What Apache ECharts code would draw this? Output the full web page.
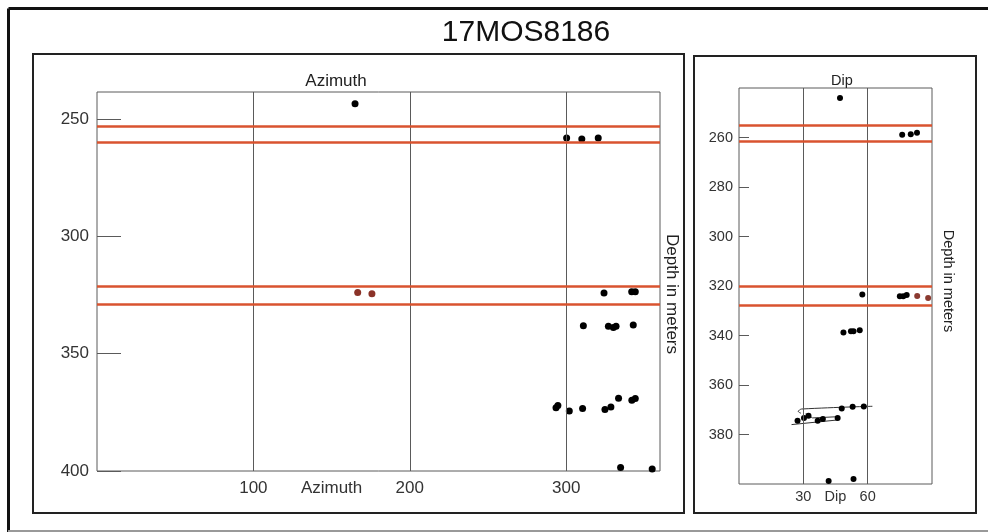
<!DOCTYPE html>
<html>
<head>
<meta charset="utf-8">
<script src="https://cdn.jsdelivr.net/npm/echarts@6/dist/echarts.min.js"></script>
<style>
  html, body { margin: 0; padding: 0; background: #fff; }
  #chart { width: 988px; height: 532px; }
</style>
</head>
<body>
<div id="chart"></div>
<script>
// azimuth panel (left)
const azBlackX = [165, 300.3, 310, 320.5, 324.2, 341.9, 344.2, 311, 327, 330.2, 331.9, 342.9, 293.5, 294.7, 302, 310.5, 324.8, 328.6, 333.5, 342, 344.2, 334.8, 355]
const azBlackDepth = [243.5, 258.1, 258.5, 258.1, 324.1, 323.6, 323.6, 338.1, 338.3, 338.8, 338.3, 337.8, 373, 372.1, 374.4, 373.4, 373.8, 372.7, 369, 369.8, 369.1, 398.5, 399.2]
const azBrownX = [166.7, 175.8]
const azBrownDepth = [323.9, 324.5]
const azRedDepths = [252.9, 260, 321.2, 328.9]
const azGridValues = [100, 200, 300]
const azLabels = { 100: '100', 150: 'Azimuth', 200: '200', 300: '300' }
const azDepthTicks = [250, 300, 350, 400]

// dip panel (right)
const dipBlackX = [47.1, 76.1, 80.1, 83, 57.5, 75, 76.6, 78.2, 48.7, 52.2, 53.4, 56.3, 27.3, 30.3, 32.4, 36.7, 39.1, 46, 47.9, 53, 58.2, 41.8, 53.4]
const dipBlackDepth = [244, 258.9, 258.7, 258.1, 323.4, 324.1, 324.1, 323.6, 338.8, 338.3, 338.3, 337.9, 374.4, 373.3, 372.4, 374.4, 373.7, 373.3, 369.5, 368.8, 368.7, 398.8, 398]
const dipBrownX = [83.1, 88.2]
const dipBrownDepth = [324, 324.8]
const dipRedDepths = [255.2, 261.4, 319.9, 327.6]
const dipGridValues = [30, 60]
const dipLabels = { 30: '30', 45: 'Dip', 60: '60' }
const dipDepthTicks = [260, 280, 300, 320, 340, 360, 380]

// hand drawn trend lines in the dip panel
const sketchUpper = [[28.9, 371.4], [27.6, 370.6], [28.3, 370.1], [29.2, 369.7], [62.2, 368.6]]
const sketchMiddle = [[31.1, 371.6], [34.3, 373.3], [46.3, 372.8]]
const sketchLower = [[24.5, 376], [46.3, 374.1]]

const zip = (xs, ys) => xs.map((x, i) => [x, ys[i]])

const font = 'Liberation Sans, Arial, sans-serif'
const redColor = '#d9532f'
const gridColor = '#5a5a5a'

function guideLines(xValues, yValues) {
  let data = []
  xValues.forEach(v => data.push({ xAxis: v, lineStyle: { color: gridColor, width: 1, type: 'solid' } }))
  yValues.forEach(v => data.push({ yAxis: v, lineStyle: { color: redColor, width: 2.5, type: 'solid' } }))
  return {
    silent: true,
    symbol: 'none',
    label: { show: false },
    animation: false,
    data
  }
}

const myChart = echarts.init(document.getElementById('chart'))
const option = {
  animation: false,
  textStyle: { fontFamily: font },
  title: [
    { text: '17MOS8186', left: 521, top: 13, textAlign: 'center',
      textStyle: { fontSize: 30, fontWeight: 'normal', color: '#111', fontFamily: font } },
    { text: 'Azimuth', left: 331, top: 68, textAlign: 'center',
      textStyle: { fontSize: 17, fontWeight: 'normal', color: '#222', fontFamily: font } },
    { text: 'Dip', left: 837, top: 68, textAlign: 'center',
      textStyle: { fontSize: 14.5, fontWeight: 'normal', color: '#222', fontFamily: font } }
  ],
  graphic: [
    // outer frame
    { type: 'line', shape: { x1: 8.5, y1: 8.5, x2: 988, y2: 8.5 }, style: { stroke: '#111', lineWidth: 3 } },
    { type: 'line', shape: { x1: 8.5, y1: 8.5, x2: 8.5, y2: 532 }, style: { stroke: '#111', lineWidth: 3 } },
    { type: 'line', shape: { x1: 8, y1: 531, x2: 988, y2: 531 }, style: { stroke: '#999', lineWidth: 2 } },
    // panel boxes
    { type: 'rect', shape: { x: 33, y: 54, width: 651, height: 459 }, style: { fill: 'none', stroke: '#222', lineWidth: 2 } },
    { type: 'rect', shape: { x: 694, y: 56, width: 282, height: 457 }, style: { fill: 'none', stroke: '#222', lineWidth: 2 } },
    { type: 'text', x: 672, y: 294, rotation: -Math.PI / 2,
      style: { text: 'Depth in meters', fontSize: 17, fill: '#222', fontFamily: font, align: 'center', verticalAlign: 'middle' } },
    { type: 'text', x: 948, y: 281, rotation: -Math.PI / 2,
      style: { text: 'Depth in meters', fontSize: 14.5, fill: '#222', fontFamily: font, align: 'center', verticalAlign: 'middle' } }
  ],
  grid: [
    { left: 97, top: 92, width: 563, height: 379, show: true, borderColor: gridColor, borderWidth: 1, backgroundColor: 'transparent' },
    { left: 739, top: 88, width: 193, height: 396, show: true, borderColor: gridColor, borderWidth: 1, backgroundColor: 'transparent' }
  ],
  xAxis: [
    {
      gridIndex: 0, type: 'value', min: 0, max: 360, interval: 50,
      axisLine: { show: false }, axisTick: { show: false }, splitLine: { show: false },
      axisLabel: {
        fontSize: 17, color: '#333', margin: 9, showMaxLabel: false,
        formatter: v => azLabels[v] || ''
      }
    },
    {
      gridIndex: 1, type: 'value', min: 0, max: 90, interval: 15,
      axisLine: { show: false }, axisTick: { show: false }, splitLine: { show: false },
      axisLabel: {
        fontSize: 14.5, color: '#333', margin: 5,
        formatter: v => dipLabels[v] || ''
      }
    }
  ],
  yAxis: [
    {
      gridIndex: 0, type: 'value', inverse: true, min: 238.5, max: 400,
      axisLine: { show: false }, splitLine: { show: false },
      axisTick: { show: true, inside: true, length: 24, customValues: azDepthTicks, lineStyle: { color: gridColor } },
      axisLabel: { fontSize: 17, color: '#333', margin: 8, customValues: azDepthTicks }
    },
    {
      gridIndex: 1, type: 'value', inverse: true, min: 240, max: 400,
      axisLine: { show: false }, splitLine: { show: false },
      axisTick: { show: true, inside: true, length: 10, customValues: dipDepthTicks, lineStyle: { color: gridColor } },
      axisLabel: { fontSize: 14.5, color: '#333', margin: 6, customValues: dipDepthTicks }
    }
  ],
  series: [
    {
      type: 'scatter', xAxisIndex: 0, yAxisIndex: 0, symbolSize: 7, z: 3,
      itemStyle: { color: '#000', opacity: 1 },
      data: zip(azBlackX, azBlackDepth),
      markLine: guideLines(azGridValues, azRedDepths)
    },
    {
      type: 'scatter', xAxisIndex: 0, yAxisIndex: 0, symbolSize: 7, z: 3,
      itemStyle: { color: '#8b3328', opacity: 1 },
      data: zip(azBrownX, azBrownDepth)
    },
    {
      type: 'scatter', xAxisIndex: 1, yAxisIndex: 1, symbolSize: 6, z: 3,
      itemStyle: { color: '#000', opacity: 1 },
      data: zip(dipBlackX, dipBlackDepth),
      markLine: guideLines(dipGridValues, dipRedDepths)
    },
    {
      type: 'scatter', xAxisIndex: 1, yAxisIndex: 1, symbolSize: 6, z: 3,
      itemStyle: { color: '#8b3a30', opacity: 1 },
      data: zip(dipBrownX, dipBrownDepth)
    },
    {
      type: 'line', xAxisIndex: 1, yAxisIndex: 1, showSymbol: false, smooth: true,
      lineStyle: { color: '#333', width: 1 }, data: sketchUpper
    },
    {
      type: 'line', xAxisIndex: 1, yAxisIndex: 1, showSymbol: false,
      lineStyle: { color: '#333', width: 1 }, data: sketchMiddle
    },
    {
      type: 'line', xAxisIndex: 1, yAxisIndex: 1, showSymbol: false,
      lineStyle: { color: '#333', width: 1 }, data: sketchLower
    }
  ]
}
myChart.setOption(option)
window.addEventListener('resize', function () {
  myChart.resize()
})
</script>
</body>
</html>
